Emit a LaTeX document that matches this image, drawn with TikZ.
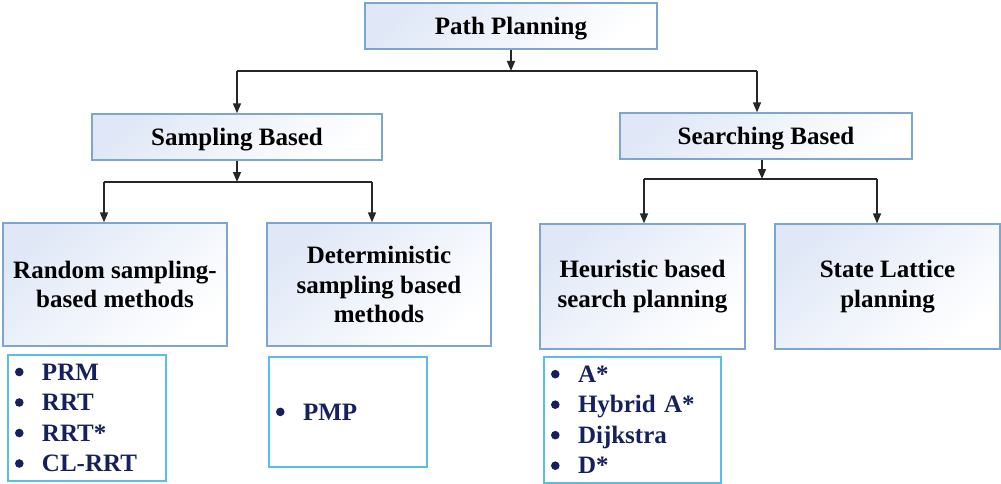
\documentclass[tikz,border=0pt]{standalone}
\usepackage{fontspec}
\setmainfont{Liberation Serif}
\usetikzlibrary{arrows.meta}
\definecolor{boxline}{RGB}{125,165,210}
\definecolor{boxfill}{RGB}{224,232,247}
\definecolor{listline}{RGB}{90,190,235}
\definecolor{listtext}{RGB}{22,32,92}
\tikzset{
  catbox/.style={draw=boxline,line width=1.3pt,top color=boxfill,bottom color=white,
    shading angle=40,align=center,inner sep=0pt,
    font=\fontsize{25}{29.5}\selectfont\bfseries},
  oneline/.style={text height=16.5pt,text depth=0pt},
  listbox/.style={draw=listline,line width=1.3pt,text=listtext,align=left,
    inner xsep=7pt,inner ysep=0pt,font=\fontsize{25}{30.5}\selectfont\bfseries},
  link/.style={line width=1.6pt,color=black!85},
  arr/.style={link,-{Triangle[length=10pt,width=8pt]}}
}
\newcommand{\itm}{\makebox[27pt][l]{\tikz[baseline=0pt]\fill[listtext] (5.5pt,8.3pt) circle (4.3pt);}}

\begin{document}
\begin{tikzpicture}[x=1pt,y=-1pt]
  \useasboundingbox (0,0) rectangle (1001,484);

  % category boxes
  \node[catbox,oneline,minimum width=292pt,minimum height=46pt] (plan) at (511,26) {Path Planning};
  \node[catbox,oneline,minimum width=290pt,minimum height=46pt] (samp) at (237,137) {Sampling Based};
  \node[catbox,oneline,minimum width=292pt,minimum height=46pt] (srch) at (766,136) {Searching Based};
  \node[catbox,minimum width=224pt,minimum height=123pt] (rnd) at (115,284.5) {Random sampling-\\based methods};
  \node[catbox,minimum width=224pt,minimum height=123pt] (det) at (379,284.5) {Deterministic\\sampling based\\methods};
  \node[catbox,minimum width=205pt,minimum height=125pt] (heur) at (642.5,286.5) {Heuristic based\\search planning};
  \node[catbox,minimum width=225pt,minimum height=125pt] (lat) at (887.5,286.5) {State Lattice\\planning};

  % method lists
  \node[listbox,text width=144pt,minimum height=126pt] (rndlist) at (87,418)
    {\itm PRM\\\itm RRT\\\itm RRT*\\\itm CL-RRT};
  \node[listbox,text width=144pt,minimum height=110pt] (detlist) at (348,412)
    {\itm PMP};
  \node[listbox,text width=163pt,minimum height=126pt] (heurlist) at (632.5,420)
    {\itm A*\\\itm Hybrid A*\\\itm Dijkstra\\\itm D*};

  % connectors
  \coordinate (top) at (511,71);
  \coordinate (tl) at (237,71);
  \coordinate (tr) at (757,71);
  \draw[arr] (plan) -- (top);
  \draw[link] (tl) -- (tr);
  \draw[arr] (tl) -- (tl |- samp.north);
  \draw[arr] (tr) -- (tr |- srch.north);

  \coordinate (sj) at (237,182);
  \coordinate (sl) at (104,182);
  \coordinate (sr) at (372,182);
  \draw[arr] (samp) -- (sj);
  \draw[link] (sl) -- (sr);
  \draw[arr] (sl) -- (sl |- rnd.north);
  \draw[arr] (sr) -- (sr |- det.north);

  \coordinate (hj) at (762,179);
  \coordinate (hl) at (644,179);
  \coordinate (hr) at (877,179);
  \draw[arr] (srch.south -| hj) -- (hj);
  \draw[link] (hl) -- (hr);
  \draw[arr] (hl) -- (hl |- heur.north);
  \draw[arr] (hr) -- (hr |- lat.north);
\end{tikzpicture}
\end{document}
